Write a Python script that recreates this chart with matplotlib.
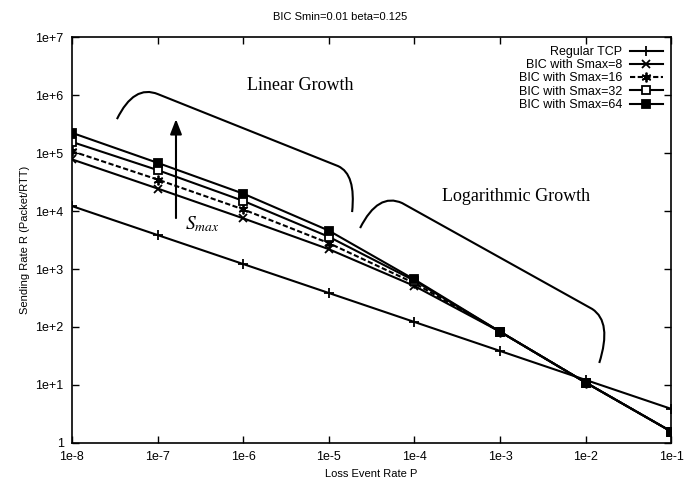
#!/usr/bin/env python3
import matplotlib
matplotlib.use("Agg")
import matplotlib.pyplot as plt
from matplotlib.path import Path
from matplotlib.patches import PathPatch

# loss event rate P
loss_rate = [1e-8, 1e-7, 1e-6, 1e-5, 1e-4, 1e-3, 1e-2, 1e-1]
x_ticks = [1e-8, 1e-7, 1e-6, 1e-5, 1e-4, 1e-3, 1e-2, 1e-1]
x_tick_labels = ['1e-8', '1e-7', '1e-6', '1e-5', '1e-4', '1e-3', '1e-2', '1e-1']
y_ticks = [1, 1e1, 1e2, 1e3, 1e4, 1e5, 1e6, 1e7]
y_tick_labels = ['1', '1e+1', '1e+2', '1e+3', '1e+4', '1e+5', '1e+6', '1e+7']

# sending rate R (packet/RTT)
regular_tcp = [12200, 3860, 1220, 386, 122, 38.6, 12.2, 3.86]
bic_smax8 = [78000, 24500, 7500, 2200, 510, 83, 11, 1.57]
bic_smax16 = [108000, 35000, 10700, 2800, 570, 83, 11, 1.57]
bic_smax32 = [156000, 51000, 15000, 3600, 630, 83, 11, 1.57]
bic_smax64 = [224000, 68000, 20000, 4600, 660, 83, 11, 1.57]

series = [
    ('Regular TCP', regular_tcp, '-', '+', 'k', 6.5),
    ('BIC with Smax=8', bic_smax8, '-', 'x', 'k', 6),
    ('BIC with Smax=16', bic_smax16, (0, (2.5, 1.2)), (6, 2, 0), 'k', 7),
    ('BIC with Smax=32', bic_smax32, '-', 's', 'w', 5.5),
    ('BIC with Smax=64', bic_smax64, '-', 's', 'k', 6),
]

plt.rcParams['font.family'] = ['Liberation Sans', 'DejaVu Sans']
plt.rcParams['mathtext.fontset'] = 'stix'

fig = plt.figure(figsize=(6.85, 4.83), dpi=100)
ax = fig.add_axes([0.105, 0.083, 0.875, 0.840])

for label, vals, ls, mk, mfc, ms in series:
    ax.plot(loss_rate, vals, color='black', linestyle=ls, linewidth=1.5,
            marker=mk, markersize=ms, markerfacecolor=mfc, markeredgecolor='black',
            markeredgewidth=1.3, label=label)

ax.set_xscale('log')
ax.set_yscale('log')
ax.set_xlim(1e-8, 1e-1)
ax.set_ylim(1, 1e7)
ax.set_xticks(x_ticks)
ax.set_xticklabels(x_tick_labels)
ax.set_yticks(y_ticks)
ax.set_yticklabels(y_tick_labels)
ax.minorticks_off()
ax.tick_params(direction='in', length=5, width=1, labelsize=9, top=True, right=True, pad=6)
for s in ax.spines.values():
    s.set_linewidth(1.2)

ax.set_xlabel('Loss Event Rate P', fontsize=8)
ax.set_ylabel('Sending Rate R (Packet/RTT)', fontsize=8, labelpad=4)
fig.text(0.497, 0.965, 'BIC Smin=0.01 beta=0.125', ha='center', va='center', fontsize=8)

leg = ax.legend(loc='upper right', frameon=False, markerfirst=False, fontsize=9,
                handlelength=2.6, labelspacing=0.1, borderaxespad=0.3, handletextpad=0.6)
for t in leg.get_texts():
    t.set_ha('right')

# braces (axes fraction coordinates)
def brace(pts):
    codes = [Path.MOVETO, Path.CURVE3, Path.CURVE3, Path.LINETO, Path.CURVE3, Path.CURVE3]
    ax.add_patch(PathPatch(Path(pts, codes), transform=ax.transAxes,
                           facecolor='none', edgecolor='black', linewidth=1.5))

def fr(px, py):
    return ((px - 72) / 599.0, (443 - py) / 406.0)

brace([fr(117, 119), fr(134, 84), fr(158, 94), fr(338, 166), fr(356, 174), fr(352, 212)])
brace([fr(360, 228), fr(378, 192), fr(402, 203), fr(592, 309), fr(612, 322), fr(599, 363)])

ax.text(*fr(300, 85), 'Linear Growth', transform=ax.transAxes, ha='center', va='center',
        fontsize=13, family='Liberation Serif')
ax.text(*fr(516, 196), 'Logarithmic Growth', transform=ax.transAxes, ha='center', va='center',
        fontsize=13, family='Liberation Serif')
ax.text(*fr(202, 224), r'$S_{max}$', transform=ax.transAxes, ha='center', va='center',
        fontsize=14)
ax.annotate('', xy=fr(176, 119), xytext=fr(176, 218), xycoords='axes fraction',
            textcoords='axes fraction',
            arrowprops=dict(arrowstyle='-|>,head_length=0.9,head_width=0.35',
                            color='black', linewidth=1.5, shrinkA=0, shrinkB=0))

fig.savefig('out.png', dpi=100)
